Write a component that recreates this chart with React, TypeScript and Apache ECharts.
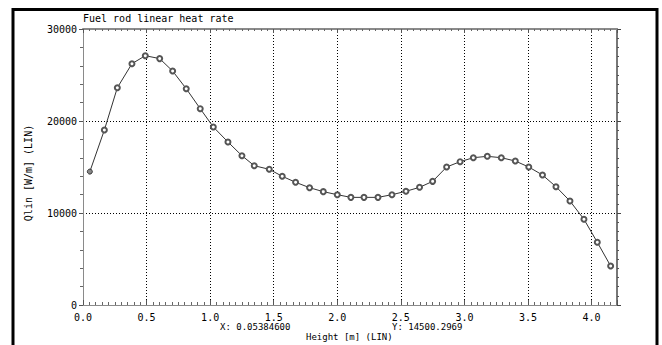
import React, { useEffect, useRef } from "react";
import * as echarts from "echarts";

const chartTitle = "Fuel rod linear heat rate";
const xAxisName = "Height [m] (LIN)";
const yAxisName = "Qlin [W/m] (LIN)";
const cursorX = "X: 0.05384600";
const cursorY = "Y: 14500.2969";

const heights = [
  0.053846, 0.168, 0.27, 0.385, 0.49, 0.603, 0.705, 0.812, 0.922, 1.025,
  1.14, 1.25, 1.347, 1.465, 1.567, 1.672, 1.782, 1.89, 2.0, 2.107,
  2.21, 2.32, 2.43, 2.54, 2.647, 2.75, 2.86, 2.966, 3.07, 3.18,
  3.29, 3.4, 3.506, 3.614, 3.72, 3.83, 3.94, 4.045, 4.15,
];
const qlin = [
  14500, 19020, 23620, 26230, 27100, 26780, 25430, 23510, 21340, 19350,
  17720, 16230, 15140, 14750, 13990, 13340, 12750, 12320, 11990, 11700,
  11700, 11700, 11990, 12360, 12790, 13440, 15000, 15580, 16010, 16160,
  16010, 15650, 15000, 14130, 12860, 11300, 9320, 6820, 4240,
];

const xMin = 0;
const xMax = 4.2;
const xStep = 0.5;
const yMin = 0;
const yMax = 30000;
const yStep = 10000;

const FONT = "DejaVu Sans Mono";

export default function App() {
  const ref = useRef<HTMLDivElement>(null);
  useEffect(() => {
    if (!ref.current) return;
    const chart = echarts.init(ref.current, undefined, { renderer: "svg" });
    const data = heights.map((h, i) =>
      i === 0
        ? {
            value: [h, qlin[i]],
            symbol: "circle",
            itemStyle: { color: "#888", borderColor: "#333", borderWidth: 1 },
          }
        : { value: [h, qlin[i]] }
    );
    const axisGray = "#8a8a8a";
    const smallText = (text: string, x: number, y: number) => ({
      type: "text",
      x,
      y,
      style: {
        text,
        font: `9px "${FONT}"`,
        lineHeight: 9,
        fill: "#000",
        textAlign: "left",
        textVerticalAlign: "middle",
      },
    });
    chart.setOption({
      animation: false,
      backgroundColor: "#fff",
      grid: { left: 83, right: 45, top: 29, bottom: 40 },
      xAxis: [
        {
          type: "value",
          position: "bottom",
          min: xMin,
          max: xMax,
          interval: xStep,
          axisLine: { show: true, lineStyle: { color: axisGray, width: 1 } },
          axisTick: { show: true, inside: true, length: 5, lineStyle: { color: "#555" } },
          minorTick: { show: true, splitNumber: 10, length: 3, lineStyle: { color: "#666" } },
          axisLabel: {
            fontFamily: FONT,
            fontSize: 10,
            lineHeight: 10,
            color: "#000",
            margin: 7,
            showMaxLabel: false,
            formatter: (v: number) => v.toFixed(1),
          },
          splitLine: { show: true, lineStyle: { color: "#000", type: [1, 2], width: 1 } },
        },
        {
          type: "value",
          position: "top",
          min: xMin,
          max: xMax,
          interval: xStep,
          axisLine: { show: true, onZero: false, lineStyle: { color: axisGray, width: 2 } },
          axisTick: { show: true, inside: true, length: 4, lineStyle: { color: "#555" } },
          minorTick: { show: true, splitNumber: 10, length: 2, lineStyle: { color: "#666" } },
          axisLabel: { show: false },
          splitLine: { show: false },
        },
      ],
      yAxis: [
        {
          type: "value",
          position: "left",
          min: yMin,
          max: yMax,
          interval: yStep,
          axisLine: { show: true, lineStyle: { color: axisGray, width: 1 } },
          axisTick: { show: true, inside: false, length: 4, lineStyle: { color: "#555" } },
          minorTick: { show: true, splitNumber: 5, length: 3, lineStyle: { color: "#666" } },
          axisLabel: {
            fontFamily: FONT,
            fontSize: 10,
            color: "#000",
            margin: 6,
            formatter: (v: number) => String(v),
          },
          splitLine: { show: true, lineStyle: { color: "#000", type: [1, 2], width: 1 } },
        },
        {
          type: "value",
          position: "right",
          min: yMin,
          max: yMax,
          interval: yStep,
          axisLine: { show: true, onZero: false, lineStyle: { color: "#777", width: 2 } },
          axisTick: { show: true, inside: false, length: 4, lineStyle: { color: "#444" } },
          minorTick: { show: true, splitNumber: 10, length: 2, lineStyle: { color: "#555" } },
          axisLabel: { show: false },
          splitLine: { show: false },
        },
      ],
      series: [
        {
          type: "line",
          xAxisIndex: 0,
          yAxisIndex: 0,
          data,
          symbol: "emptyCircle",
          symbolSize: 5,
          lineStyle: { color: "#333", width: 1 },
          itemStyle: { color: "#555", borderWidth: 1 },
        },
      ],
      graphic: [
        {
          type: "rect",
          shape: { x: 13, y: 9.5, width: 644, height: 400 },
          style: { fill: "none", stroke: "#000", lineWidth: 3 },
          silent: true,
        },
        {
          type: "text",
          x: 83,
          y: 18,
          style: {
            text: chartTitle,
            font: `10px "${FONT}"`,
            fill: "#000",
            textAlign: "left",
            textVerticalAlign: "middle",
          },
        },
        smallText(cursorX, 220, 327),
        smallText(cursorY, 392, 327),
        smallText(xAxisName, 306, 337),
        {
          type: "text",
          x: 28,
          y: 173,
          rotation: Math.PI / 2,
          style: {
            text: yAxisName,
            font: `10px "${FONT}"`,
            fill: "#000",
            textAlign: "center",
            textVerticalAlign: "middle",
          },
        },
      ],
    });
    return () => chart.dispose();
  }, []);
  return (
    <div
      ref={ref}
      style={{ position: "fixed", left: 0, top: 0, width: 662, height: 345 }}
    />
  );
}
